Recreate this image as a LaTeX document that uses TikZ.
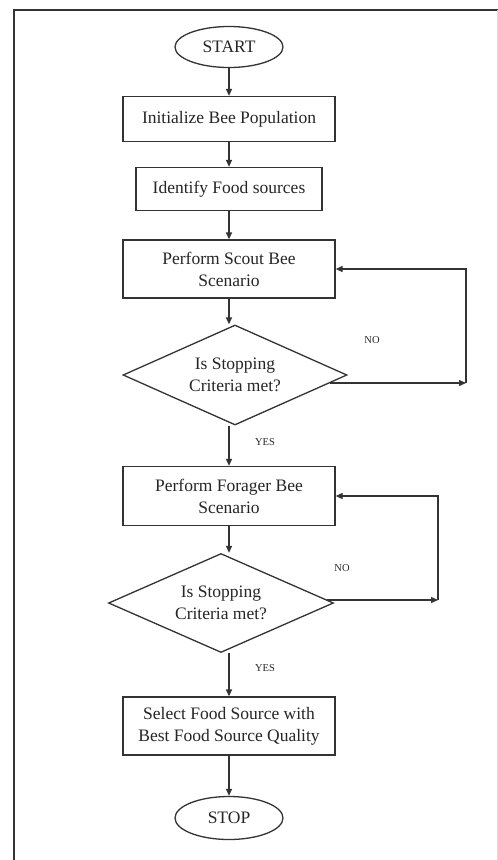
\documentclass[tikz,border=0pt]{standalone}
\usepackage{fontspec}
\setmainfont{Liberation Serif}
\usetikzlibrary{shapes.geometric,arrows.meta,calc}
\begin{document}
\begin{tikzpicture}[x=1pt,y=-1pt,
  ln/.style={draw=black!80,line width=1.3pt},
  arr/.style={ln,-{Triangle[length=7pt,width=6pt]}},
  proc/.style={ln,rectangle,inner sep=0pt,align=center,font=\fontsize{17.5}{22}\selectfont,text=black!85},
  term/.style={ln,ellipse,inner sep=0pt,font=\fontsize{17.5}{20}\selectfont,text=black!85},
  dec/.style={ln,diamond,inner sep=0pt,align=center,shape aspect=2.24,font=\fontsize{17.5}{22}\selectfont,text=black!85},
  lab/.style={font=\fontsize{10.5}{12}\selectfont,text=black!85}]
\useasboundingbox (0,0) rectangle (498,860);
\fill[white] (0,0) rectangle (498,860);
\draw[black!80,line width=2pt] (14,860) -- (14,10) -- (498,10);
\draw[black!15,line width=1pt] (497,10) -- (497,860);

\node[term,minimum width=108pt,minimum height=41pt] (start) at (229,47) {START};
\node[proc,minimum width=212pt,minimum height=45pt] (b1) at (229,119) {Initialize Bee Population};
\node[proc,minimum width=186pt,minimum height=43pt] (b2) at (229,189) {Identify Food sources};
\node[proc,minimum width=212pt,minimum height=58pt] (b3) at (229,269) {Perform Scout Bee\\Scenario};
\node[dec,minimum width=224pt,minimum height=100pt] (d1) at (235,375) {Is Stopping\\Criteria met?};
\node[proc,minimum width=212pt,minimum height=59pt] (b4) at (229,496) {Perform Forager Bee\\Scenario};
\node[dec,minimum width=225pt,minimum height=99pt] (d2) at (221,603) {Is Stopping\\Criteria met?};
\node[proc,minimum width=212pt,minimum height=58pt] (b5) at (229,726) {Select Food Source with\\Best Food Source Quality};
\node[term,minimum width=108pt,minimum height=43pt] (stop) at (229,818) {STOP};

\node[lab] (no1) at (372,340) {NO};
\node[lab] (yes1) at (265,442) {YES};
\node[lab] (no2) at (342,568) {NO};
\node[lab] (yes2) at (265,668) {YES};

\coordinate (c1) at (466,383);
\coordinate (c2) at (438,600);
\coordinate (d1o) at ($(d1.east)+(-18,8)$);
\coordinate (d2o) at ($(d2.east)+(-7,-3)$);

\draw[arr] (start) -- (b1);
\draw[arr] (b1) -- (b2);
\draw[arr] (b2) -- (b3);
\draw[arr] (b3.south) -- (b3.south |- d1.north);
\draw[arr] (d1.south -| b4.north) -- (b4.north);
\draw[arr] (b4.south) -- (b4.south |- d2.north);
\draw[arr] (d2.south -| b5.north) -- (b5.north);
\draw[arr] (b5) -- (stop);

\draw[arr] (d1o) -- (c1);
\draw[arr] (c1) |- (b3.east);
\draw[arr] (d2o) -- (c2);
\draw[arr] (c2) |- (b4.east);
\end{tikzpicture}
\end{document}
